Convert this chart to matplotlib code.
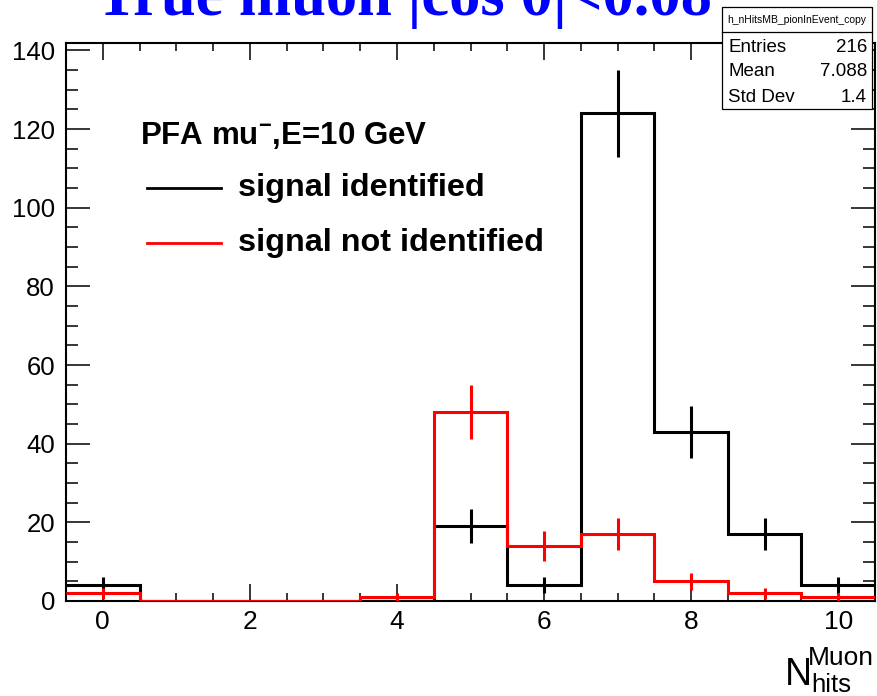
import numpy as np
import matplotlib
matplotlib.use('Agg')
import matplotlib.pyplot as plt
from matplotlib.ticker import MultipleLocator
from matplotlib.patches import Rectangle
from matplotlib.lines import Line2D

# histogram content (bins centred on 0..10)
bin_edges      = np.arange(-0.5, 11.0, 1.0)
bin_centers    = np.arange(0, 11)
identified     = [4, 0, 0, 0, 0, 19, 4, 124, 43, 17, 4]
not_identified = [2, 0, 0, 0, 1, 48, 14, 17, 5, 2, 1]

stats_name   = "h_nHitsMB_pionInEvent_copy"
stats_labels = ["Entries", "Mean", "Std Dev"]
stats_values = ["216", "7.088", "1.4"]

plt.rcParams['font.family'] = ['Liberation Sans', 'DejaVu Sans']
plt.rcParams['mathtext.fontset'] = 'custom'
plt.rcParams['mathtext.rm'] = 'Liberation Sans'
plt.rcParams['mathtext.bf'] = 'Liberation Sans:bold'

W, H = 877, 696
fig = plt.figure(figsize = (W / 100, H / 100), dpi = 100)

def fx(px): return px / W
def fy(py): return 1 - py / H

ax = fig.add_axes([fx(66), fy(601), fx(875) - fx(66), fy(43) - fy(601)])

lw = 2.2
for vals, col in [(identified, 'black'), (not_identified, 'red')]:
    vals = np.array(vals, dtype = float)
    ax.stairs(vals, bin_edges, color = col, lw = lw, baseline = None, zorder = 3)
    m = vals > 0
    ax.errorbar(bin_centers[m], vals[m], yerr = np.sqrt(vals[m]), fmt = 'none',
                ecolor = col, elinewidth = lw, capsize = 0, zorder = 3)

ax.set_xlim(-0.5, 10.5)
ax.set_ylim(0, 141.9)
ax.xaxis.set_major_locator(MultipleLocator(2))
ax.xaxis.set_minor_locator(MultipleLocator(0.5))
ax.yaxis.set_major_locator(MultipleLocator(20))
ax.yaxis.set_minor_locator(MultipleLocator(5))
ax.tick_params(which = 'both', direction = 'in', top = True, right = True, width = 1.1, color = 'black')
ax.tick_params(axis = 'x', which = 'major', length = 12.2, labelsize = 19, pad = 6.5)
ax.tick_params(axis = 'x', which = 'minor', length = 6.1)
ax.tick_params(axis = 'y', which = 'major', length = 17.3, labelsize = 18.5, pad = 8)
ax.tick_params(axis = 'y', which = 'minor', length = 8.6)
for s in ax.spines.values():
    s.set_linewidth(1.5)

# legend
ax.text(0.092, 0.835, r"PFA mu$^{\mathbf{-}}$,E=10 GeV", transform = ax.transAxes,
        fontsize = 22.5, fontweight = 'bold', ha = 'left', va = 'center')
for yy, col, lab in [(0.740, 'black', "signal identified"), (0.642, 'red', "signal not identified")]:
    ax.add_line(Line2D([0.100, 0.192], [yy, yy], transform = ax.transAxes, color = col, lw = 2))
    ax.text(0.2126, yy, lab, transform = ax.transAxes, fontsize = 23.3, fontweight = 'bold',
            ha = 'left', va = 'center')

# title, cut at the top as in the original
fig.text(fx(404), fy(15), "True muon |cos θ|<0.08", family = 'Liberation Serif',
         fontsize = 45, fontweight = 'bold', color = 'blue', ha = 'center', va = 'baseline')

# stats box
fig.add_artist(Rectangle((fx(722), fy(109)), fx(872) - fx(722), fy(7) - fy(109),
                         transform = fig.transFigure, facecolor = 'white', edgecolor = 'black',
                         lw = 0.9, zorder = 5))
fig.add_artist(Line2D([fx(722), fx(872)], [fy(32), fy(32)], transform = fig.transFigure,
                      color = 'black', lw = 0.9, zorder = 6))
fig.text(fx(797), fy(20), stats_name, fontsize = 7.5, ha = 'center', va = 'center', zorder = 6)
for i, (lab, val) in enumerate(zip(stats_labels, stats_values)):
    yy = fy(47 + 25 * i)
    fig.text(fx(728), yy, lab, fontsize = 13.5, ha = 'left', va = 'center', zorder = 6)
    fig.text(fx(867), yy, val, fontsize = 13.5, ha = 'right', va = 'center', zorder = 6)

# x axis title N_hits^Muon
fig.text(fx(785), fy(685), "N", fontsize = 27, ha = 'left', va = 'baseline')
fig.text(fx(808), fy(665), "Muon", fontsize = 19, ha = 'left', va = 'baseline')
fig.text(fx(811), fy(692), "hits", fontsize = 18.5, ha = 'left', va = 'baseline')

fig.savefig("out.png", dpi = 100)
